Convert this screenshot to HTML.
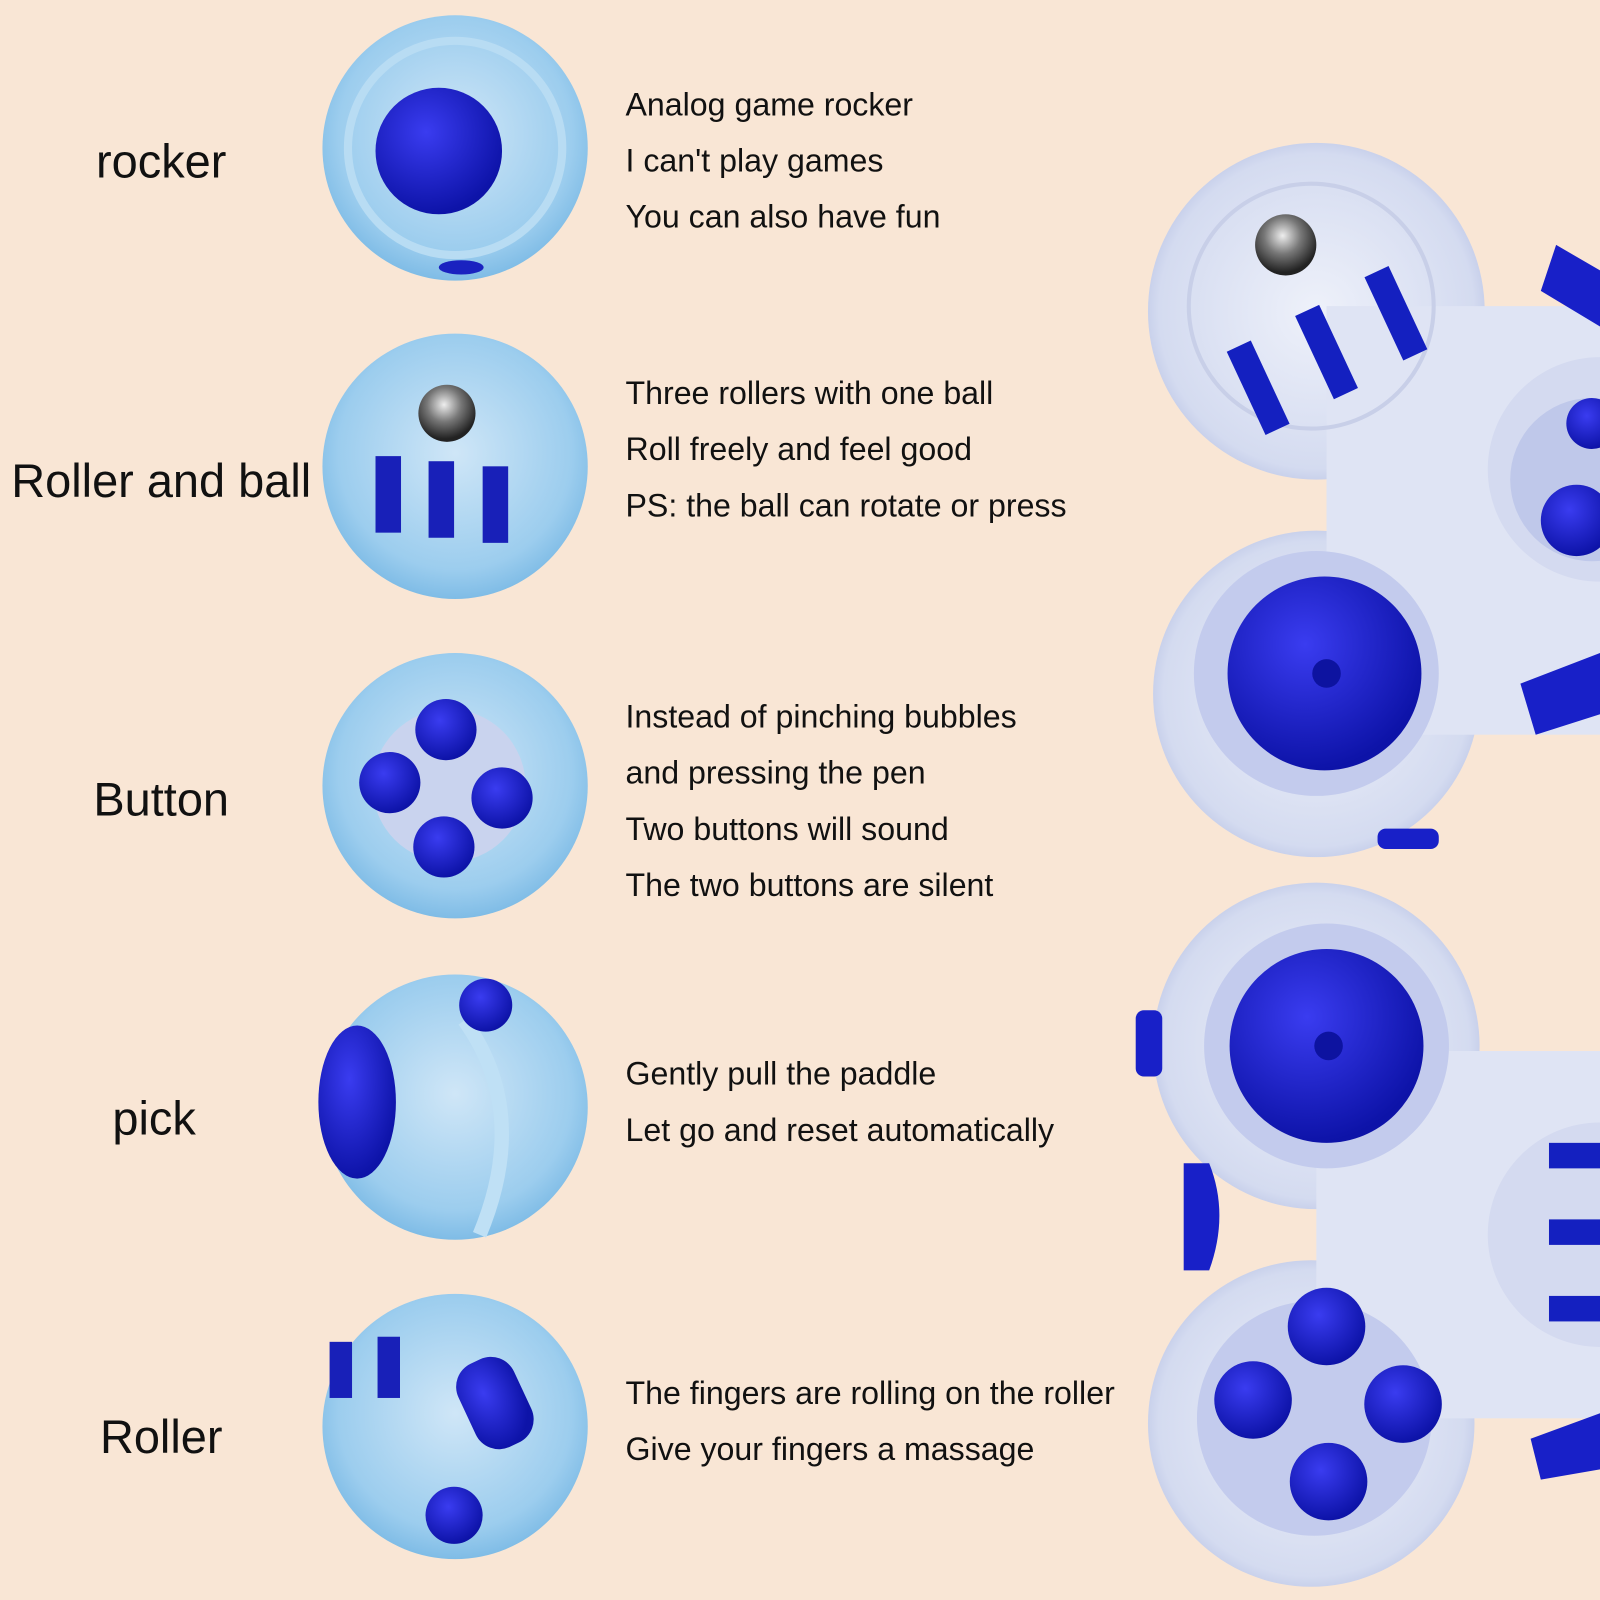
<!DOCTYPE html>
<html><head><meta charset="utf-8"><style>
html,body{margin:0;padding:0;background:#f9e6d5;}
svg{display:block}
text{font-family:"Liberation Sans",sans-serif;fill:#111}
</style></head><body>
<svg width="1600" height="1600" viewBox="0 0 1568 1568" xmlns="http://www.w3.org/2000/svg">
<defs>
<radialGradient id="cg" cx="50%" cy="45%" r="55%"><stop offset="0" stop-color="#cfe6f7"/><stop offset="0.8" stop-color="#9ccdee"/><stop offset="1" stop-color="#7fbce6"/></radialGradient>
<radialGradient id="bb" cx="40%" cy="35%" r="65%"><stop offset="0" stop-color="#3a3cf0"/><stop offset="1" stop-color="#0d13a8"/></radialGradient>
<radialGradient id="pad" cx="50%" cy="50%" r="55%"><stop offset="0" stop-color="#eef1fa"/><stop offset="0.85" stop-color="#d4dbf0"/><stop offset="1" stop-color="#b8c2e4"/></radialGradient>
<radialGradient id="ball" cx="45%" cy="35%" r="60%"><stop offset="0" stop-color="#eee"/><stop offset="0.5" stop-color="#777"/><stop offset="1" stop-color="#222"/></radialGradient>
</defs>
<rect width="1568" height="1568" fill="#f9e6d5"/>

<g font-size="46" text-anchor="middle">
<text x="158" y="174">rocker</text>
<text x="158" y="487">Roller and ball</text>
<text x="158" y="799">Button</text>
<text x="151" y="1112">pick</text>
<text x="158" y="1424">Roller</text>
</g>

<g font-size="31.5" fill="#222">
<text x="613" y="113">Analog game rocker</text>
<text x="613" y="168">I can't play games</text>
<text x="613" y="223">You can also have fun</text>
<text x="613" y="396">Three rollers with one ball</text>
<text x="613" y="451">Roll freely and feel good</text>
<text x="613" y="506">PS: the ball can rotate or press</text>
<text x="613" y="713">Instead of pinching bubbles</text>
<text x="613" y="768">and pressing the pen</text>
<text x="613" y="823">Two buttons will sound</text>
<text x="613" y="878">The two buttons are silent</text>
<text x="613" y="1063">Gently pull the paddle</text>
<text x="613" y="1118">Let go and reset automatically</text>
<text x="613" y="1376">The fingers are rolling on the roller</text>
<text x="613" y="1431">Give your fingers a massage</text>
</g>

<g>
<circle cx="446" cy="145" r="130" fill="url(#cg)"/>
<circle cx="446" cy="145" r="105" fill="none" stroke="#b8dcf3" stroke-width="8"/>
<circle cx="430" cy="148" r="62" fill="url(#bb)"/>
<ellipse cx="452" cy="262" rx="22" ry="7" fill="#1a22c0"/>

<circle cx="446" cy="457" r="130" fill="url(#cg)"/>
<circle cx="438" cy="405" r="28" fill="url(#ball)"/>
<rect x="368" y="447" width="25" height="75" fill="#1820b8"/>
<rect x="420" y="452" width="25" height="75" fill="#1820b8"/>
<rect x="473" y="457" width="25" height="75" fill="#1820b8"/>

<circle cx="446" cy="770" r="130" fill="url(#cg)"/>
<circle cx="440" cy="770" r="75" fill="#c9d3ee"/>
<circle cx="437" cy="715" r="30" fill="url(#bb)"/>
<circle cx="382" cy="767" r="30" fill="url(#bb)"/>
<circle cx="492" cy="782" r="30" fill="url(#bb)"/>
<circle cx="435" cy="830" r="30" fill="url(#bb)"/>

<circle cx="446" cy="1085" r="130" fill="url(#cg)"/>
<path d="M455 1000 Q520 1090 470 1210" fill="none" stroke="#bfe0f5" stroke-width="14"/>
<ellipse cx="350" cy="1080" rx="38" ry="75" fill="url(#bb)"/>
<circle cx="476" cy="985" r="26" fill="url(#bb)"/>

<circle cx="446" cy="1398" r="130" fill="url(#cg)"/>
<rect x="323" y="1315" width="22" height="55" fill="#1820b8"/>
<rect x="370" y="1310" width="22" height="60" fill="#1820b8"/>
<rect x="455" y="1330" width="60" height="90" rx="25" fill="url(#bb)" transform="rotate(-25 485 1375)"/>
<circle cx="445" cy="1485" r="28" fill="url(#bb)"/>
</g>

<g>
<circle cx="1290" cy="305" r="165" fill="url(#pad)"/>
<circle cx="1290" cy="680" r="160" fill="url(#pad)"/>
<rect x="1300" y="300" width="300" height="420" fill="#dfe4f4"/>
<circle cx="1568" cy="460" r="110" fill="#d4daf0"/>
<circle cx="1560" cy="470" r="80" fill="#bfc8ea"/>
<circle cx="1545" cy="510" r="35" fill="url(#bb)"/>
<circle cx="1560" cy="415" r="25" fill="url(#bb)"/>
<path d="M1525 240 L1568 265 L1568 320 L1510 285 Z" fill="#1820c8"/>
<path d="M1490 670 L1568 640 L1568 700 L1505 720 Z" fill="#1820c8"/>
<circle cx="1285" cy="300" r="120" fill="none" stroke="#c8cfe8" stroke-width="4"/>
<circle cx="1260" cy="240" r="30" fill="url(#ball)"/>
<rect x="1220" y="335" width="26" height="90" fill="#1420c0" transform="rotate(-25 1233 380)"/>
<rect x="1287" y="300" width="26" height="90" fill="#1420c0" transform="rotate(-25 1300 345)"/>
<rect x="1355" y="262" width="26" height="90" fill="#1420c0" transform="rotate(-25 1368 307)"/>
<circle cx="1290" cy="660" r="120" fill="#c3cbed"/>
<circle cx="1298" cy="660" r="95" fill="url(#bb)"/>
<circle cx="1300" cy="660" r="14" fill="#0d13a0"/>
<rect x="1350" y="812" width="60" height="20" rx="8" fill="#1820c8"/>

<circle cx="1290" cy="1025" r="160" fill="url(#pad)"/>
<circle cx="1285" cy="1395" r="160" fill="url(#pad)"/>
<rect x="1290" y="1030" width="278" height="360" fill="#dfe4f4"/>
<circle cx="1568" cy="1210" r="110" fill="#d4daf0"/>
<rect x="1518" y="1120" width="50" height="25" fill="#1420c0"/>
<rect x="1518" y="1195" width="50" height="25" fill="#1420c0"/>
<rect x="1518" y="1270" width="50" height="25" fill="#1420c0"/>
<path d="M1500 1410 L1568 1385 L1568 1440 L1510 1450 Z" fill="#1820c8"/>
<circle cx="1300" cy="1025" r="120" fill="#c3cbed"/>
<circle cx="1300" cy="1025" r="95" fill="url(#bb)"/>
<circle cx="1302" cy="1025" r="14" fill="#0d13a0"/>
<rect x="1113" y="990" width="26" height="65" rx="8" fill="#1820c8"/>
<path d="M1160 1140 L1185 1140 Q1205 1190 1185 1245 L1160 1245 Z" fill="#1820c8"/>
<circle cx="1288" cy="1390" r="115" fill="#c3cbed"/>
<circle cx="1300" cy="1300" r="38" fill="url(#bb)"/>
<circle cx="1228" cy="1372" r="38" fill="url(#bb)"/>
<circle cx="1375" cy="1376" r="38" fill="url(#bb)"/>
<circle cx="1302" cy="1452" r="38" fill="url(#bb)"/>
</g>
</svg>
</body></html>
